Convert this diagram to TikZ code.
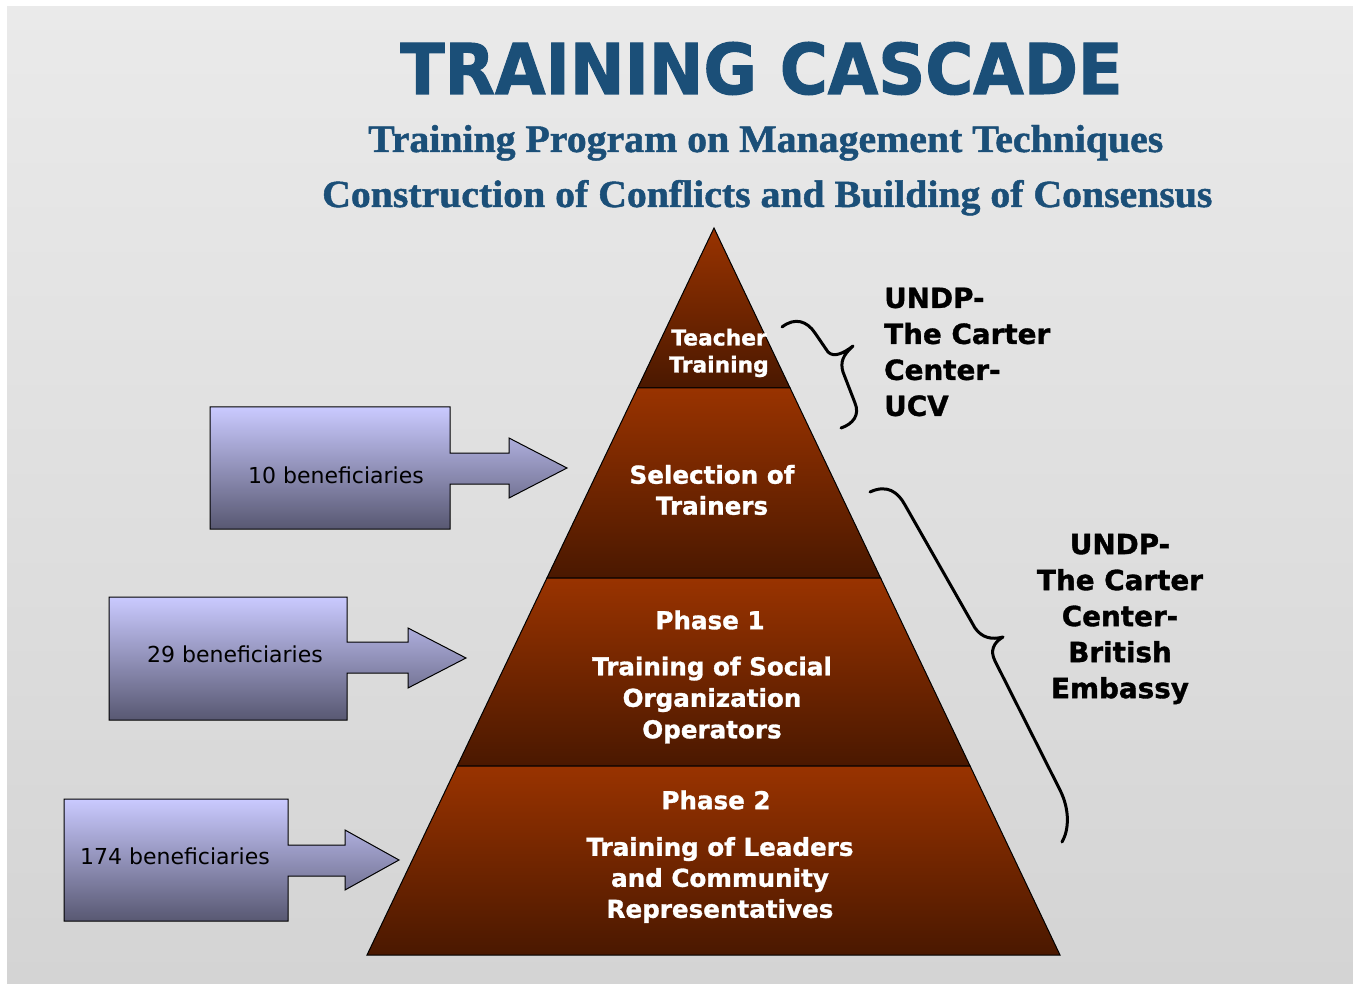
\documentclass[tikz,border=0pt]{standalone}
\usepackage{fontspec}
\usepackage{graphicx}
\setmainfont{DejaVu Sans}[BoldFeatures={FakeBold=1.2}]
\newfontfamily\titlefont{DejaVu Sans Bold}[FakeBold=1.5]
\newfontfamily\serifbf{Liberation Serif Bold}[FakeBold=1.2]
\definecolor{titleblue}{HTML}{1B4F78}
\definecolor{bgtop}{HTML}{EAEAEA}
\definecolor{bgbot}{HTML}{D4D4D4}
\definecolor{layertop}{HTML}{993300}
\definecolor{layerbot}{HTML}{4A1800}
\definecolor{boxtop}{HTML}{CACAFF}
\definecolor{boxbot}{HTML}{585872}
\tikzset{
  layer/.style={top color=layertop,bottom color=layerbot,draw=black,line width=1pt},
  callout/.style={top color=boxtop,bottom color=boxbot,draw=black,line width=1pt},
  brace/.style={draw=black,line width=3pt,line cap=round,line join=round},
  laytext/.style={text=white,font=\bfseries,align=center,inner sep=0pt},
  boxtext/.style={text=black,inner sep=0pt,font=\fontsize{22}{26}\selectfont},
  sponsor/.style={text=black,font=\fontsize{27.8}{36}\selectfont\bfseries,inner sep=0pt},
}
\begin{document}
\begin{tikzpicture}[x=1pt,y=-1pt]
\useasboundingbox (0,0) rectangle (1353,984);
\fill[white] (0,0) rectangle (1353,984);
\shade[top color=bgtop,bottom color=bgbot] (7,7) rectangle (1353,984);

% titles
\node[anchor=base west,inner sep=0pt,text=titleblue] (title) at (400,94)
  {\resizebox{722pt}{52pt}{\titlefont TRAINING CASCADE}};
\node[anchor=base west,inner sep=0pt,text=titleblue] (sub1) at (368,152)
  {\resizebox{795pt}{27pt}{\serifbf Training Program on Management Techniques}};
\node[anchor=base west,inner sep=0pt,text=titleblue] (sub2) at (322,207)
  {\resizebox{890pt}{27pt}{\serifbf Construction of Conflicts and Building of Consensus}};

% pyramid layers
\path[layer] (714,228) -- (790.1,388) -- (637.6,388) -- cycle;
\path[layer] (637.6,388) -- (790.1,388) -- (880.6,578) -- (546.9,578) -- cycle;
\path[layer] (546.9,578) -- (880.6,578) -- (970.1,766) -- (457.2,766) -- cycle;
\path[layer] (457.2,766) -- (970.1,766) -- (1060,955) -- (367,955) -- cycle;

% layer texts
\node[laytext,font=\fontsize{21.8}{27}\selectfont\bfseries] (teach) at (719,353) {Teacher\\Training};
\node[laytext,font=\fontsize{24.6}{31}\selectfont\bfseries] (select) at (712,490) {Selection of\\Trainers};
\node[laytext,font=\fontsize{24.6}{31}\selectfont\bfseries] (ph1) at (710,620) {Phase 1};
\node[laytext,font=\fontsize{24.6}{31.5}\selectfont\bfseries] (ph1t) at (712,700) {Training of Social\\Organization\\Operators};
\node[laytext,font=\fontsize{24.6}{31}\selectfont\bfseries] (ph2) at (716,800) {Phase 2};
\node[laytext,font=\fontsize{24.6}{31}\selectfont\bfseries] (ph2t) at (720,880) {Training of Leaders\\and Community\\Representatives};

% callout arrows
\path[callout] (210,407) -- (450,407) -- (450,453) -- (509,453) -- (509,438) -- (567,468)
  -- (509,498) -- (509,484) -- (450,484) -- (450,529) -- (210,529) -- cycle;
\path[callout] (109,597) -- (347,597) -- (347,642) -- (408,642) -- (408,628) -- (466,658)
  -- (408,688) -- (408,673) -- (347,673) -- (347,720) -- (109,720) -- cycle;
\path[callout] (64,799) -- (288,799) -- (288,845) -- (345,845) -- (345,830) -- (399,860)
  -- (345,890) -- (345,876) -- (288,876) -- (288,921) -- (64,921) -- cycle;
\node[boxtext] (b1) at (336,475) {10 beneficiaries};
\node[boxtext] (b2) at (235,654) {29 beneficiaries};
\node[boxtext] (b3) at (175,856) {174 beneficiaries};

% braces
\draw[brace] (782,327) .. controls (795,317) and (807,321) .. (815,333) -- (828,352)
  .. controls (834,358) and (844,353) .. (853,346)
  .. controls (843,355) and (840,362) .. (843,372) -- (855,403)
  .. controls (860,415) and (853,424) .. (841,428);
\draw[brace] (870,492) .. controls (887,484) and (898,492) .. (905,505) -- (975,628)
  .. controls (982,638) and (992,640) .. (1003,637)
  .. controls (993,643) and (990,651) .. (995,661) -- (1060,790)
  .. controls (1070,810) and (1069,830) .. (1062,842);

% sponsors
\node[sponsor,anchor=west,align=left] (sp1) at (884,352) {UNDP-\\The Carter\\Center-\\UCV};
\node[sponsor,align=center] (sp2) at (1120,619) {UNDP-\\The Carter\\Center-\\British\\Embassy};
\end{tikzpicture}
\end{document}
